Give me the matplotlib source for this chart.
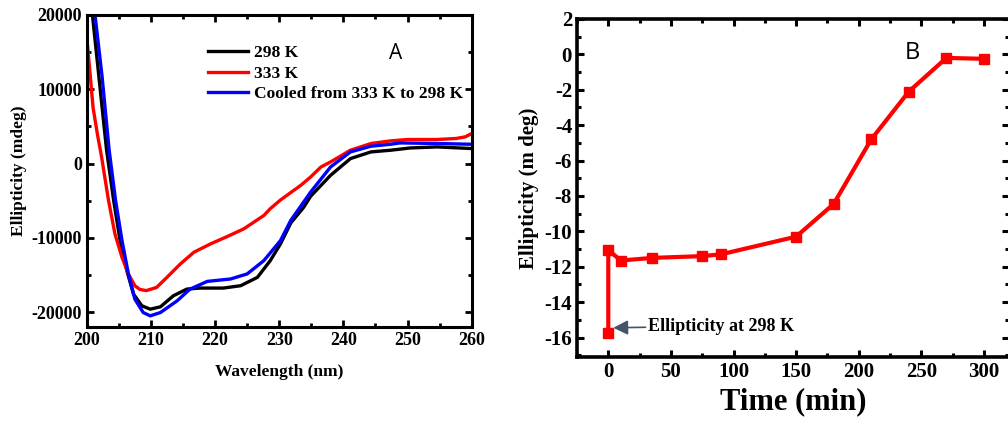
import matplotlib
matplotlib.use('Agg')
import matplotlib.pyplot as plt
from matplotlib.ticker import MultipleLocator

plt.rcParams['font.family'] = 'Liberation Serif'
plt.rcParams['font.weight'] = 'bold'
plt.rcParams['axes.unicode_minus'] = False

# CD spectra (panel A)
wl_298 = [200.0, 200.9, 201.9, 203.1, 204.2, 205.2, 206.25, 207.3, 208.6, 209.9, 211.5, 213.5,
          215.6, 217.7, 221.3, 224.0, 226.6, 228.6, 230.2, 231.8, 233.8, 234.9, 238.0, 241.1,
          244.3, 247.4, 250.4, 254.6, 259.8, 260.0]
cd_298 = [27500, 20000, 11700, 1800, -4960, -10360, -14410, -17570, -19150, -19600, -19280, -17800,
          -16900, -16760, -16760, -16440, -15320, -13070, -10810, -8000, -5900, -4400, -1580, 670,
          1570, 1800, 2100, 2240, 2030, 2000]

wl_333 = [200.0, 200.1, 201.0, 201.7, 202.3, 203.4, 204.4, 205.5, 206.5, 207.5, 208.3, 209.3,
          210.9, 212.5, 214.6, 216.7, 219.3, 221.9, 224.5, 227.6, 228.6, 230.2, 231.8, 233.4,
          234.9, 236.5, 238.0, 241.1, 244.3, 247.4, 250.0, 254.6, 257.6, 259.0, 260.0]
cd_333 = [18460, 16200, 7500, 3800, 1000, -4960, -9460, -12620, -14860, -16440, -16950, -17100,
          -16670, -15320, -13510, -11940, -10810, -9820, -8780, -6990, -6080, -4900, -3900, -2900,
          -1800, -460, 220, 1800, 2700, 3060, 3240, 3240, 3380, 3600, 4050]

wl_cool = [200.0, 201.3, 202.4, 203.5, 204.5, 205.5, 206.5, 207.5, 208.8, 209.9, 211.5, 214.1,
           216.1, 218.8, 222.4, 225.0, 227.6, 230.2, 231.8, 234.9, 238.0, 241.1, 244.3, 247.4,
           248.8, 254.6, 259.8, 260.0]
cd_cool = [31000, 20000, 11700, 1800, -4960, -10360, -14860, -18240, -20050, -20500, -20050, -18470,
           -16900, -15860, -15540, -14860, -13070, -10360, -7650, -3830, -460, 1570, 2340, 2600,
           2780, 2700, 2600, 2600]

# time course at 333 K (panel B)
time_min = [0, 0, 10, 35, 75, 90, 150, 180, 210, 240, 270, 300]
ellip = [-15.75, -11.05, -11.65, -11.5, -11.4, -11.3, -10.3, -8.45, -4.8, -2.1, -0.2, -0.25]

fig = plt.figure(figsize=(10.08, 4.26), dpi=100)

# ---- panel A
ax1 = fig.add_axes([0.086, 0.2324, 0.382, 0.7324])
ax1.plot(wl_298, cd_298, color='black', lw=2.4, label='298 K')
ax1.plot(wl_333, cd_333, color='#ff0000', lw=2.4, label='333 K')
ax1.plot(wl_cool, cd_cool, color='#0000ff', lw=2.4, label='Cooled from 333 K to 298 K')
ax1.set_xlim(200, 260)
ax1.set_ylim(-22000, 20000)
ax1.xaxis.set_major_locator(MultipleLocator(10))
ax1.xaxis.set_minor_locator(MultipleLocator(5))
ax1.yaxis.set_major_locator(MultipleLocator(10000))
ax1.yaxis.set_minor_locator(MultipleLocator(5000))
ax1.tick_params(which='both', direction='in', top=True, right=True, width=2, labelsize=13)
ax1.tick_params(which='major', length=5)
ax1.tick_params(which='minor', length=3)
for s in ax1.spines.values():
    s.set_linewidth(2.2)
ax1.set_xlabel('Wavelength (nm)', fontsize=12.5, fontweight='bold', labelpad=11)
ax1.set_ylabel('Ellipticity (mdeg)', fontsize=12.5, fontweight='bold', labelpad=3)
leg = ax1.legend(loc='upper left', bbox_to_anchor=(0.298, 0.925), frameon=False, fontsize=12.5,
                 handlelength=2.3, handletextpad=0.3, labelspacing=0.25, borderaxespad=0)
ax1.text(248.2, 14770, 'A', fontsize=15, family='Open Sans', fontweight='normal',
         ha='center', va='center')

# ---- panel B
ax2 = fig.add_axes([0.5724, 0.162, 0.4286, 0.7934])
ax2.plot(time_min, ellip, color='#ff0000', lw=3, marker='s', ms=7)
ax2.set_xlim(-25, 320)
ax2.set_ylim(-17.1, 2)
ax2.xaxis.set_major_locator(MultipleLocator(50))
ax2.xaxis.set_minor_locator(MultipleLocator(25))
ax2.yaxis.set_major_locator(MultipleLocator(2))
ax2.yaxis.set_minor_locator(MultipleLocator(1))
ax2.tick_params(which='both', direction='in', top=True, right=True, width=2.2, labelsize=15)
ax2.tick_params(which='major', length=5)
ax2.tick_params(which='minor', length=3)
for s in ax2.spines.values():
    s.set_linewidth(2.6)
ax2.set_xlabel('Time (min)', fontsize=22, fontweight='bold', labelpad=4)
ax2.set_ylabel('Ellipticity (m deg)', fontsize=15, fontweight='bold', labelpad=4)
ax2.annotate('Ellipticity at 298 K', xy=(4, -15.45), xytext=(32, -15.35),
             fontsize=13, fontweight='bold', ha='left', va='center',
             arrowprops=dict(arrowstyle='-|>', color='#44546A', lw=1.2, mutation_scale=22,
                             shrinkA=0, shrinkB=0))
ax2.text(243, 0.1, 'B', fontsize=17, family='Open Sans', fontweight='normal',
         ha='center', va='center')

fig.savefig('out.png', dpi=100)
